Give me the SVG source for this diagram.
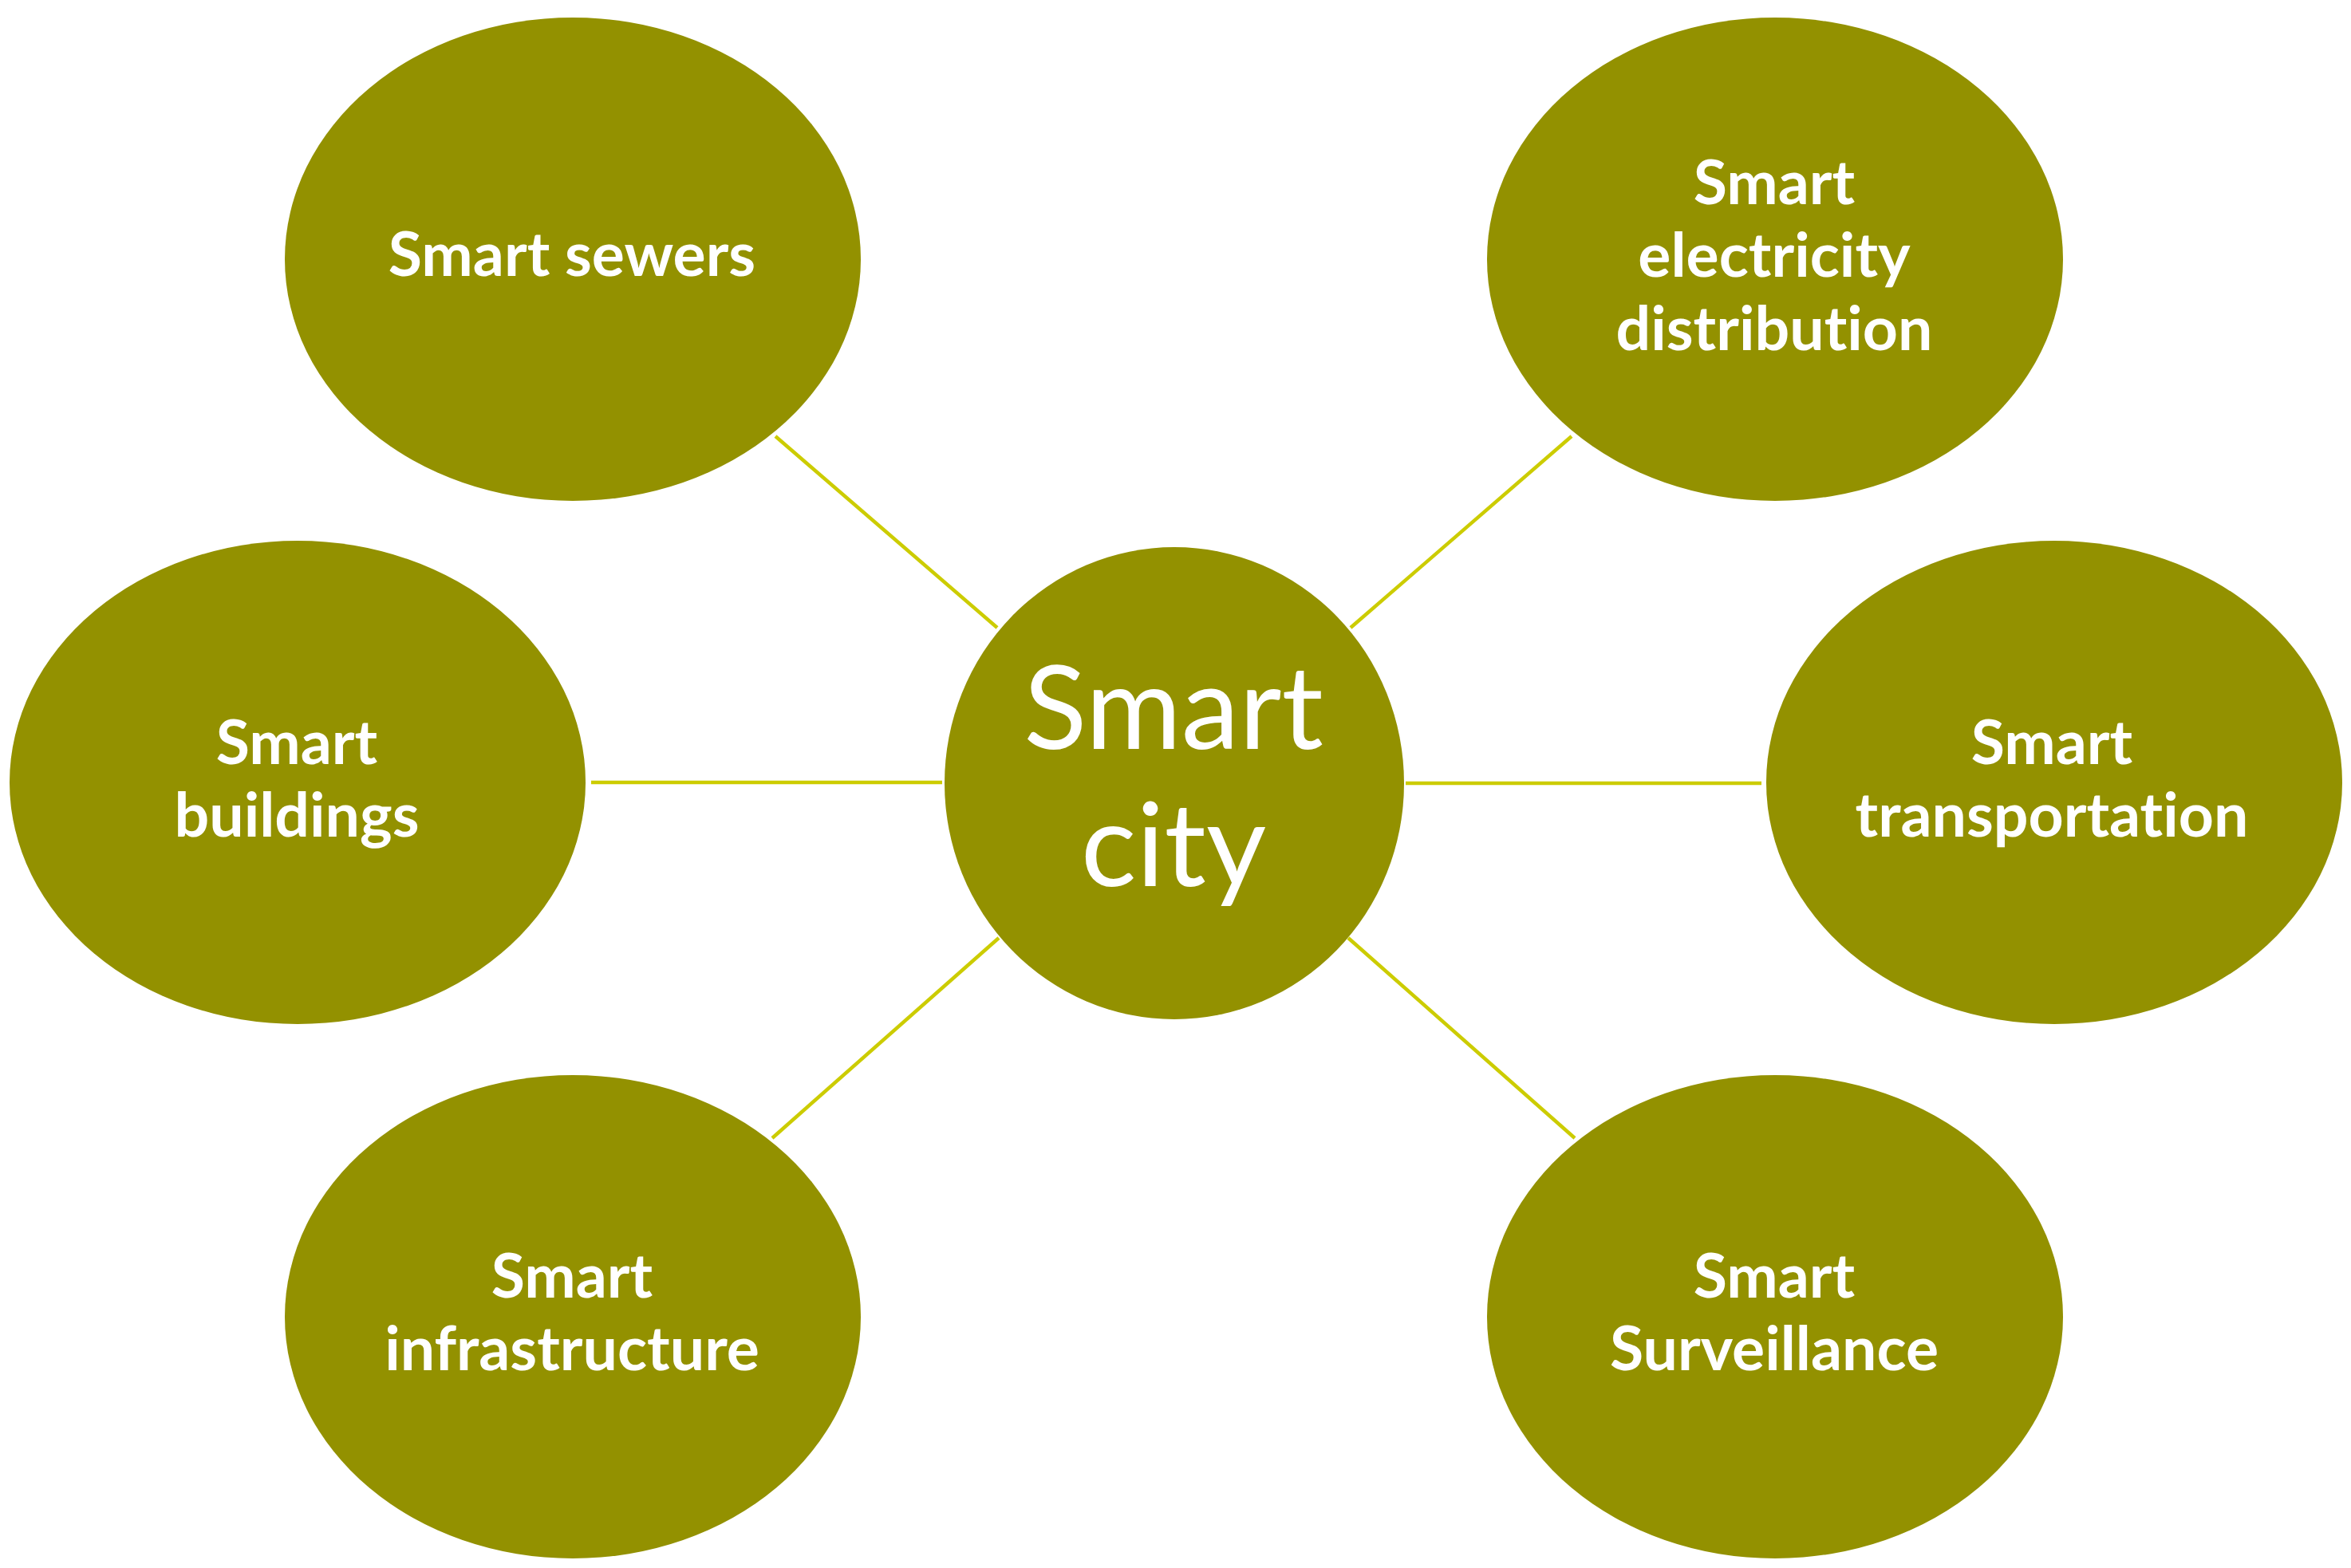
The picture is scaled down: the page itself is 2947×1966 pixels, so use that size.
<svg xmlns="http://www.w3.org/2000/svg" width="2947" height="1966" viewBox="0 0 2947 1966">
<style>
.node{fill:#939100}
.lbl{font-family:Lato,"Open Sans","Liberation Sans",sans-serif;font-weight:bold;font-size:77px;fill:#ffffff;text-anchor:middle;font-variant-ligatures:none;font-feature-settings:"liga" 0,"dlig" 0}
.ctr{font-family:Lato,"Open Sans","Liberation Sans",sans-serif;font-weight:normal;font-size:146px;fill:#ffffff;text-anchor:middle;font-variant-ligatures:none;font-feature-settings:"liga" 0}
.conn{stroke:#cccc00;stroke-width:4.5;fill:none}
</style>
<rect width="2947" height="1966" fill="#ffffff"/>
<g id="connectors">
<line class="conn" x1="972" y1="547" x2="1250" y2="787"/>
<line class="conn" x1="1970" y1="547" x2="1693" y2="787"/>
<line class="conn" x1="741" y1="981" x2="1181" y2="981"/>
<line class="conn" x1="1762" y1="982" x2="2208" y2="982"/>
<line class="conn" x1="968" y1="1427" x2="1252" y2="1176"/>
<line class="conn" x1="1690" y1="1176" x2="1974" y2="1427"/>
</g>
<g id="smart-city">
<ellipse class="node" cx="1472" cy="982" rx="288" ry="296"/>
<text class="ctr" x="1471" y="939">Smart</text>
<text class="ctr" x="1471" y="1111">city</text>
</g>
<g id="smart-sewers">
<ellipse class="node" cx="718" cy="325" rx="361" ry="303"/>
<text class="lbl" x="717" y="346">Smart sewers</text>
</g>
<g id="smart-electricity">
<ellipse class="node" cx="2225" cy="325" rx="361" ry="303"/>
<text class="lbl" x="2224" y="256">Smart</text>
<text class="lbl" x="2224" y="347">electricity</text>
<text class="lbl" x="2224" y="439">distribution</text>
</g>
<g id="smart-buildings">
<ellipse class="node" cx="373" cy="981" rx="361" ry="303"/>
<text class="lbl" x="372" y="958">Smart</text>
<text class="lbl" x="372" y="1049">buildings</text>
</g>
<g id="smart-transportation">
<ellipse class="node" cx="2575" cy="981" rx="361" ry="303"/>
<text class="lbl" x="2572" y="958">Smart</text>
<text class="lbl" x="2572" y="1049">transportation</text>
</g>
<g id="smart-infrastructure">
<ellipse class="node" cx="718" cy="1651" rx="361" ry="303"/>
<text class="lbl" x="717" y="1627">Smart</text>
<text class="lbl" x="717" y="1718">infrastructure</text>
</g>
<g id="smart-surveillance">
<ellipse class="node" cx="2225" cy="1651" rx="361" ry="303"/>
<text class="lbl" x="2224" y="1627">Smart</text>
<text class="lbl" x="2224" y="1718">Surveillance</text>
</g>
</svg>
